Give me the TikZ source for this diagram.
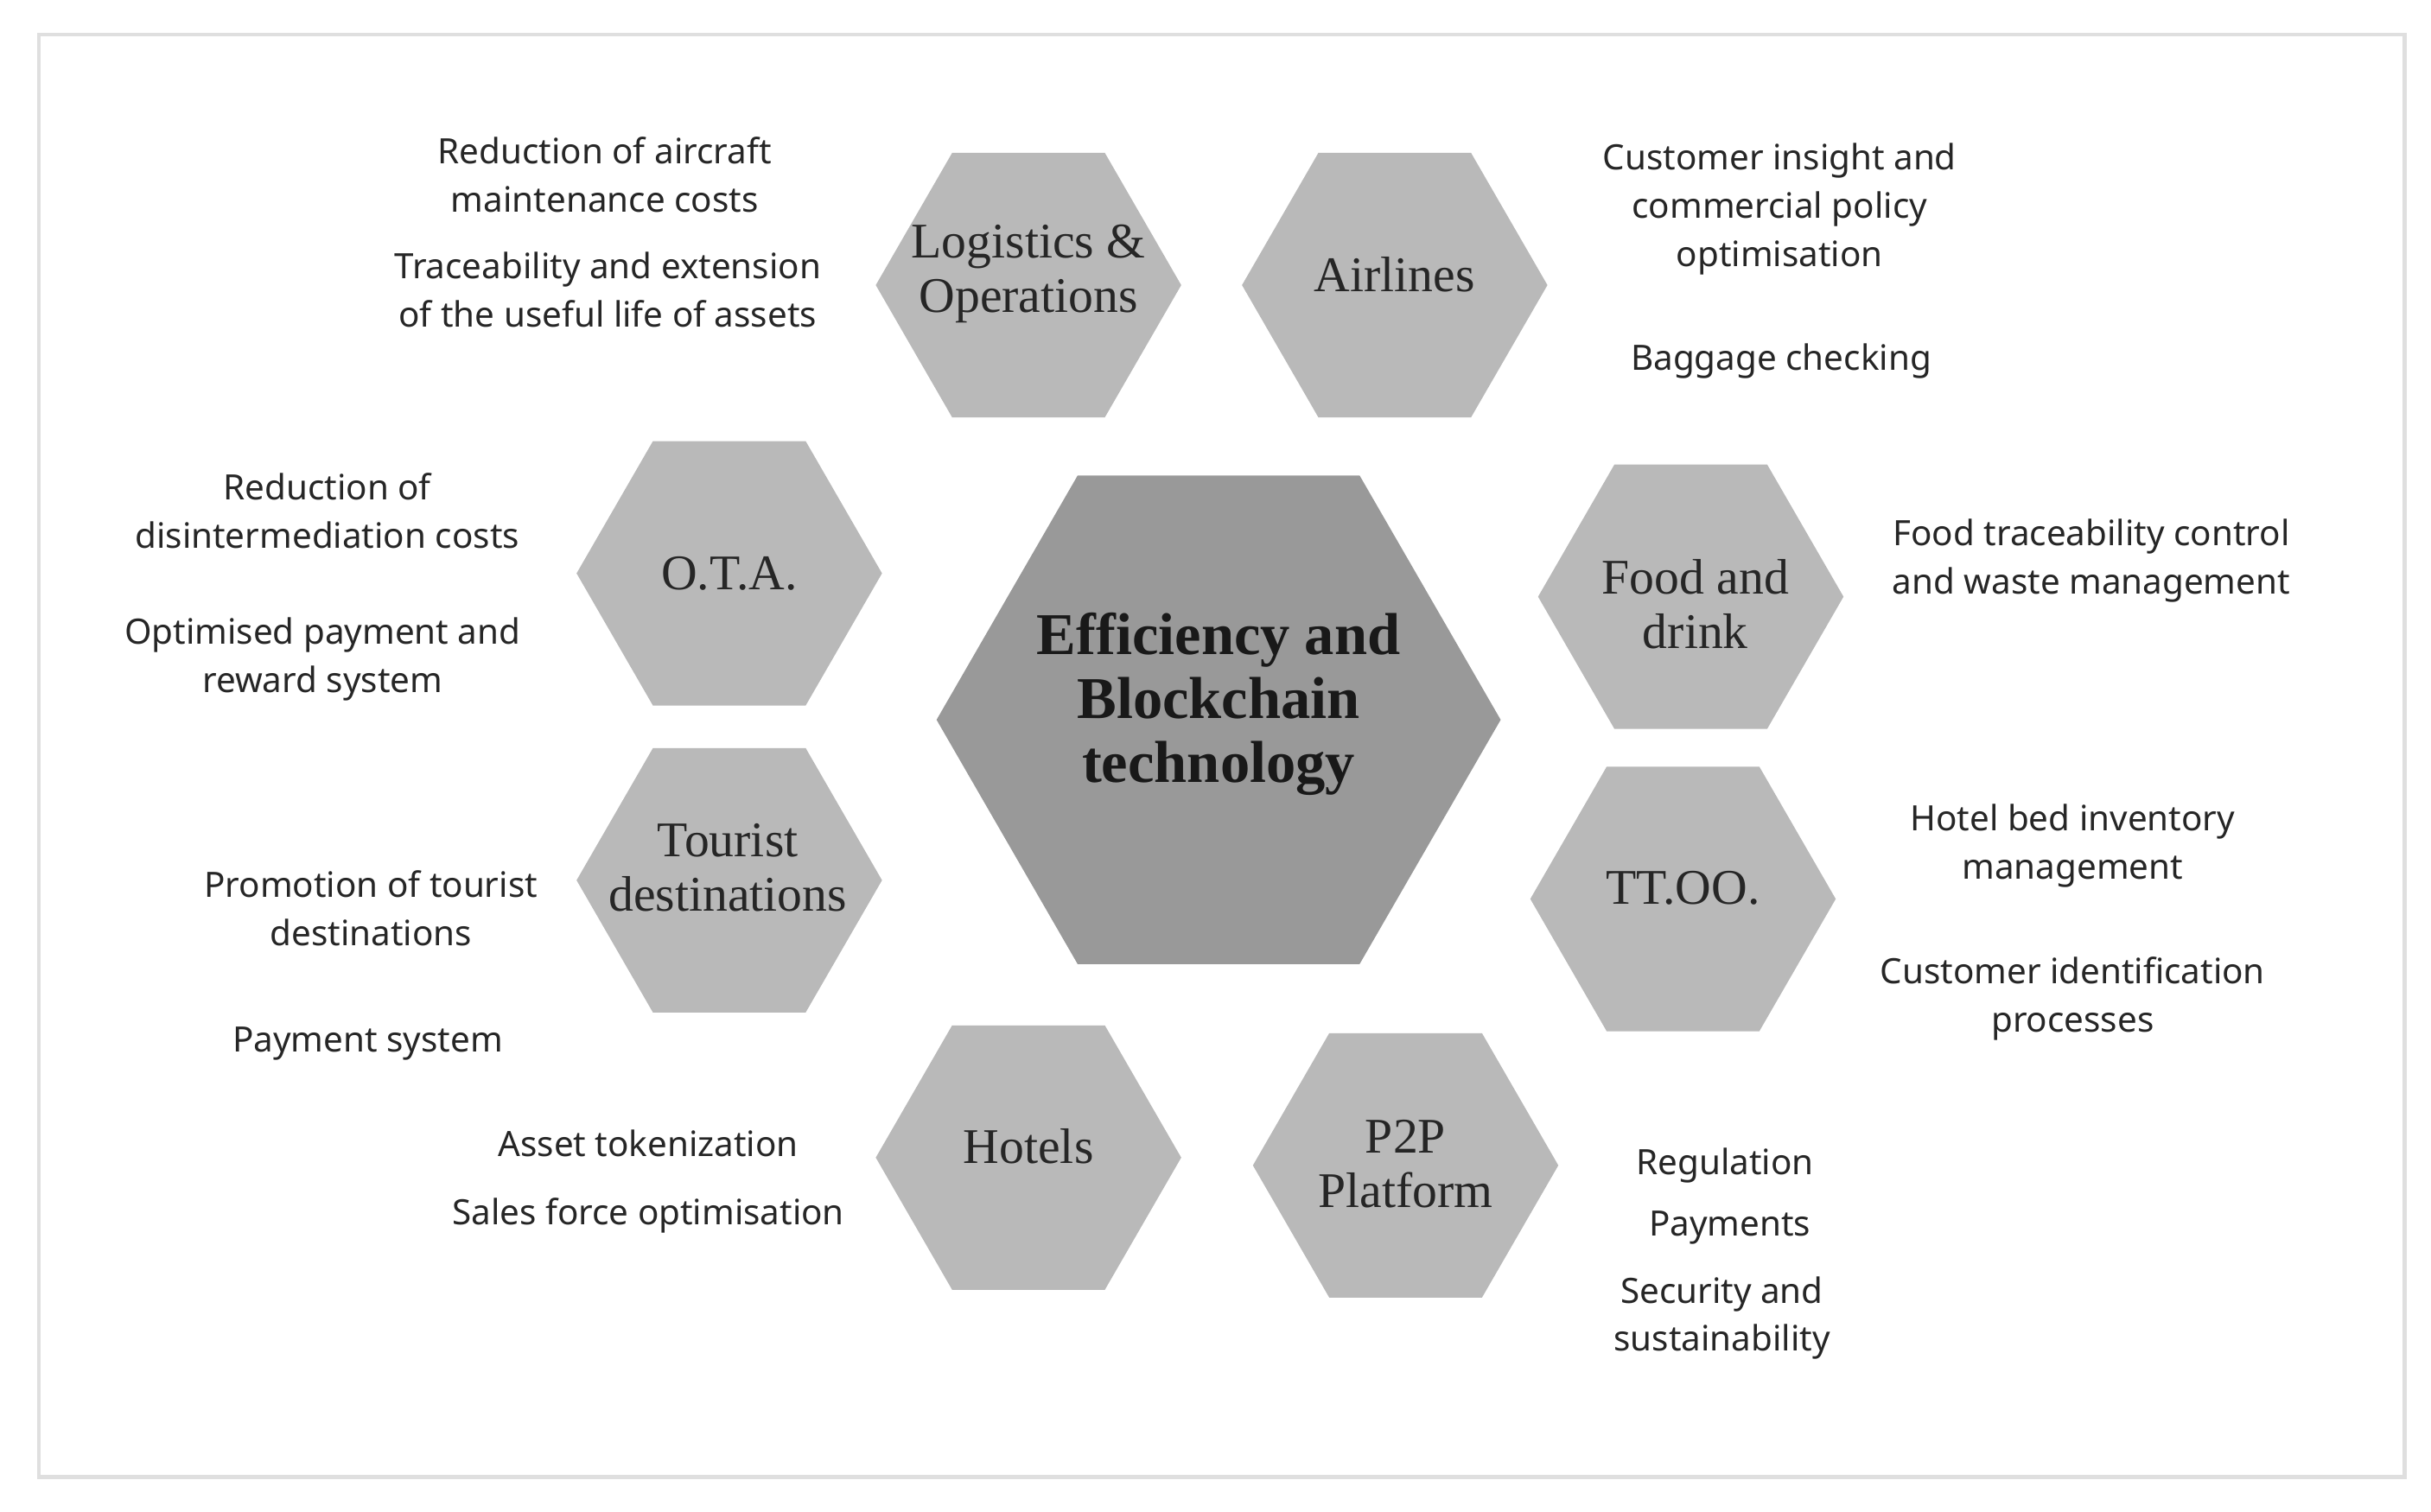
\documentclass[tikz,border=0pt]{standalone}
\usepackage{fontspec}
\setmainfont{Liberation Serif}
\newfontfamily\sidefont{Noto Sans}
\usetikzlibrary{shapes.geometric}
\begin{document}
\begin{tikzpicture}[x=0.5pt,y=-0.5pt,
  hexa/.style={regular polygon,regular polygon sides=6,fill=gray!55!white,draw=none,inner sep=0pt,minimum size=98pt},
  bighex/.style={hexa,fill=gray!80!white,minimum size=181pt},
  htext/.style={align=center,font=\fontsize{16}{17.5}\selectfont,text=black!85},
  btext/.style={align=center,font=\fontsize{19}{20.5}\selectfont\bfseries,text=black!90},
  side/.style={align=center,font=\sidefont\fontsize{11.2}{15.5}\selectfont,text=black!85}]
\useasboundingbox (0,0) rectangle (1560,970);
\draw[gray!25,line width=1.2pt] (25,22) rectangle (1543,948);
\node[bighex] (c) at (782,462) {};
\node[btext] (ct) at (782,452) {Efficiency and\\Blockchain\\technology};
\node[hexa] (log) at (660,183) {};
\node[htext] (logt) at (660,176) {Logistics \&\\Operations};
\node[hexa] (air) at (895,183) {};
\node[htext] (airt) at (895,176) {Airlines};
\node[hexa] (ota) at (468,368) {};
\node[htext] (otat) at (468,368) {O.T.A.};
\node[hexa] (food) at (1085,383) {};
\node[htext] (foodt) at (1088,388) {Food and\\drink};
\node[hexa] (tour) at (468,565) {};
\node[htext] (tourt) at (467,557) {Tourist\\destinations};
\node[hexa] (tt) at (1080,577) {};
\node[htext] (ttt) at (1080,570) {TT.OO.};
\node[hexa] (hot) at (660,743) {};
\node[htext] (hott) at (660,736) {Hotels};
\node[hexa] (p2p) at (902,748) {};
\node[htext] (p2pt) at (902,747) {P2P\\Platform};
\node[side] (s1) at (388,112) {Reduction of aircraft\\maintenance costs};
\node[side] (s2) at (390,186) {Traceability and extension\\of the useful life of assets};
\node[side] (s3) at (1142,134) {Customer insight and\\commercial policy\\optimisation};
\node[side] (s4) at (1143,232) {Baggage checking};
\node[side] (s5) at (210,328) {Reduction of\\disintermediation costs};
\node[side] (s6) at (207,423) {Optimised payment and\\reward system};
\node[side] (s7) at (1342,360) {Food traceability control\\and waste management};
\node[side] (s8) at (238,583) {Promotion of tourist\\destinations};
\node[side] (s9) at (236,670) {Payment system};
\node[side] (s10) at (1330,543) {Hotel bed inventory\\management};
\node[side] (s11) at (1330,641) {Customer identification\\processes};
\node[side] (s12) at (416,734) {Asset tokenization};
\node[side] (s13) at (416,780) {Sales force optimisation};
\node[side] (s14) at (1107,748) {Regulation};
\node[side] (s15) at (1110,788) {Payments};
\node[side] (s16) at (1105,846) {Security and\\sustainability};
\end{tikzpicture}
\end{document}
